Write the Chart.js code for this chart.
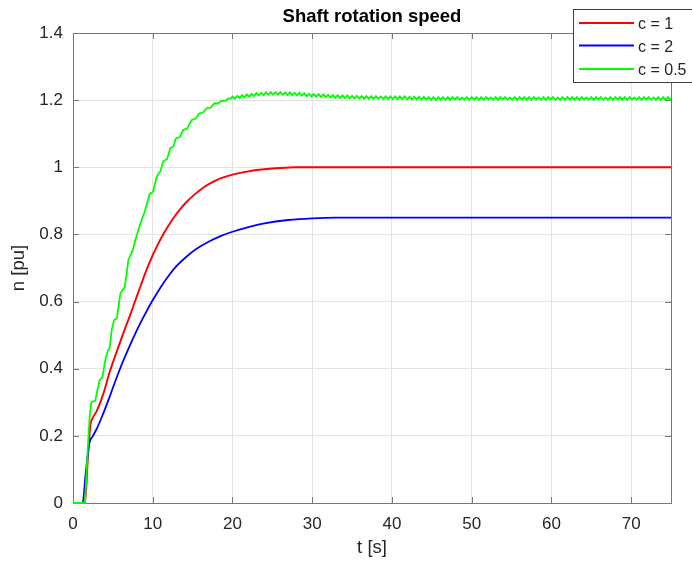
<!DOCTYPE html>
<html>
<head>
<meta charset="utf-8">
<title>Shaft rotation speed</title>
<script src="https://cdn.jsdelivr.net/npm/chart.js@4.4.1/dist/chart.umd.min.js"></script>
<style>
    html, body { margin: 0; padding: 0; background: #ffffff; }
    canvas { display: block; }
</style>
</head>
<body>
<canvas id="speedChart" width="692" height="563"></canvas>
<script>
const seriesLabels = ['c = 1', 'c = 2', 'c = 0.5'];
const seriesColors = ['#ff0000', '#0000ff', '#00ff00'];

const xTicks = [0, 10, 20, 30, 40, 50, 60, 70];
const xTickLabels = ['0', '10', '20', '30', '40', '50', '60', '70'];
const yTicks = [0, 0.2, 0.4, 0.6, 0.8, 1.0, 1.2, 1.4];
const yTickLabels = ['0', '0.2', '0.4', '0.6', '0.8', '1', '1.2', '1.4'];

// c = 1
const redT = [0, 1.5, 1.9, 2.2, 2.4, 3.0, 3.8, 4.6, 5.7, 6.5, 7.2, 7.8, 8.5, 9.2, 10.0, 10.6, 11.3, 12.0, 12.6, 13.4, 14.3, 15.3, 16.2, 17.2, 18.5, 20.0, 22.0, 24.0, 26.0, 28.0, 30.0, 75.0];
const redN = [0, 0, 0.15, 0.235, 0.25, 0.275, 0.325, 0.39, 0.465, 0.518, 0.562, 0.602, 0.648, 0.693, 0.738, 0.768, 0.8, 0.827, 0.849, 0.874, 0.898, 0.92, 0.937, 0.952, 0.967, 0.978, 0.988, 0.994, 0.998, 1.0, 1.0, 1.0];

// c = 2
const blueT = [0, 1.2, 1.6, 2.05, 2.5, 3.0, 3.8, 4.5, 5.06, 5.9, 7.0, 8.0, 9.0, 9.9, 11.0, 12.0, 13.0, 14.3, 15.5, 17.0, 18.5, 20.0, 22.0, 24.0, 27.0, 30.0, 33.0, 75.0];
const blueN = [0, 0, 0.09, 0.178, 0.2, 0.222, 0.267, 0.31, 0.347, 0.4, 0.462, 0.514, 0.561, 0.6, 0.643, 0.677, 0.706, 0.735, 0.757, 0.778, 0.795, 0.808, 0.822, 0.833, 0.843, 0.848, 0.85, 0.85];

// c = 0.5, rising part with its steps
const greenRiseT = [0, 1.5, 1.92, 2.1, 2.3, 2.8, 3.0, 3.35, 3.7, 4.0, 4.4, 4.6, 4.85, 5.15, 5.5, 5.95, 6.5, 6.95, 7.5, 8.0, 8.6, 9.0, 9.6, 10.05, 10.5, 11.0, 11.3, 11.8, 12.2, 12.6, 12.9, 13.4, 13.8, 14.3, 14.9, 15.4, 15.8, 16.3, 16.8, 17.3, 17.7, 18.2, 18.6, 19.1, 19.5, 19.8];
const greenRiseN = [0, 0, 0.19, 0.26, 0.30, 0.305, 0.33, 0.366, 0.375, 0.42, 0.456, 0.46, 0.515, 0.545, 0.55, 0.625, 0.644, 0.724, 0.754, 0.798, 0.843, 0.868, 0.92, 0.927, 0.972, 0.99, 1.017, 1.025, 1.057, 1.062, 1.086, 1.09, 1.111, 1.115, 1.141, 1.145, 1.16, 1.163, 1.176, 1.178, 1.19, 1.19, 1.198, 1.198, 1.205, 1.204];

// c = 0.5, steady part with ripple
const greenSteadyT = [
    20.0, 20.3, 20.6, 20.9, 21.2, 21.5, 21.8, 22.1, 22.4, 22.7,
    23.0, 23.3, 23.6, 23.9, 24.2, 24.5, 24.8, 25.1, 25.4, 25.7,
    26.0, 26.3, 26.6, 26.9, 27.2, 27.5, 27.8, 28.1, 28.4, 28.7,
    29.0, 29.3, 29.6, 29.9, 30.2, 30.5, 30.8, 31.1, 31.4, 31.7,
    32.0, 32.3, 32.6, 32.9, 33.2, 33.5, 33.8, 34.1, 34.4, 34.7,
    35.0, 35.3, 35.6, 35.9, 36.2, 36.5, 36.8, 37.1, 37.4, 37.7,
    38.0, 38.3, 38.6, 38.9, 39.2, 39.5, 39.8, 40.1, 40.4, 40.7,
    41.0, 41.3, 41.6, 41.9, 42.2, 42.5, 42.8, 43.1, 43.4, 43.7,
    44.0, 44.3, 44.6, 44.9, 45.2, 45.5, 45.8, 46.1, 46.4, 46.7,
    47.0, 47.3, 47.6, 47.9, 48.2, 48.5, 48.8, 49.1, 49.4, 49.7,
    50.0, 50.3, 50.6, 50.9, 51.2, 51.5, 51.8, 52.1, 52.4, 52.7,
    53.0, 53.3, 53.6, 53.9, 54.2, 54.5, 54.8, 55.1, 55.4, 55.7,
    56.0, 56.3, 56.6, 56.9, 57.2, 57.5, 57.8, 58.1, 58.4, 58.7,
    59.0, 59.3, 59.6, 59.9, 60.2, 60.5, 60.8, 61.1, 61.4, 61.7,
    62.0, 62.3, 62.6, 62.9, 63.2, 63.5, 63.8, 64.1, 64.4, 64.7,
    65.0, 65.3, 65.6, 65.9, 66.2, 66.5, 66.8, 67.1, 67.4, 67.7,
    68.0, 68.3, 68.6, 68.9, 69.2, 69.5, 69.8, 70.1, 70.4, 70.7,
    71.0, 71.3, 71.6, 71.9, 72.2, 72.5, 72.8, 73.1, 73.4, 73.7,
    74.0, 74.3, 74.6, 74.9, 75.2
];
const greenSteadyN = [
    1.211, 1.204, 1.213, 1.206, 1.215, 1.208, 1.217, 1.210, 1.219, 1.212,
    1.221, 1.214, 1.222, 1.215, 1.223, 1.216, 1.224, 1.216, 1.224, 1.216,
    1.224, 1.216, 1.223, 1.215, 1.223, 1.215, 1.222, 1.214, 1.222, 1.213,
    1.220, 1.212, 1.219, 1.211, 1.218, 1.210, 1.218, 1.209, 1.217, 1.209,
    1.216, 1.208, 1.215, 1.207, 1.215, 1.206, 1.214, 1.206, 1.214, 1.205,
    1.213, 1.205, 1.213, 1.205, 1.212, 1.204, 1.212, 1.204, 1.212, 1.204,
    1.212, 1.204, 1.211, 1.203, 1.211, 1.203, 1.211, 1.203, 1.211, 1.203,
    1.211, 1.203, 1.211, 1.202, 1.210, 1.202, 1.210, 1.202, 1.210, 1.202,
    1.210, 1.202, 1.209, 1.201, 1.209, 1.201, 1.209, 1.201, 1.209, 1.201,
    1.209, 1.201, 1.209, 1.202, 1.209, 1.201, 1.208, 1.201, 1.209, 1.201,
    1.209, 1.202, 1.209, 1.201, 1.209, 1.201, 1.209, 1.202, 1.208, 1.201,
    1.209, 1.201, 1.209, 1.202, 1.209, 1.201, 1.208, 1.201, 1.209, 1.201,
    1.209, 1.202, 1.209, 1.201, 1.209, 1.201, 1.209, 1.202, 1.208, 1.201,
    1.209, 1.201, 1.209, 1.202, 1.209, 1.201, 1.208, 1.201, 1.209, 1.201,
    1.209, 1.202, 1.209, 1.201, 1.209, 1.201, 1.209, 1.202, 1.208, 1.201,
    1.209, 1.201, 1.209, 1.202, 1.209, 1.201, 1.208, 1.201, 1.209, 1.201,
    1.209, 1.202, 1.209, 1.201, 1.209, 1.201, 1.209, 1.202, 1.208, 1.201,
    1.209, 1.201, 1.209, 1.202, 1.209, 1.201, 1.208, 1.201, 1.209, 1.201,
    1.209, 1.201, 1.209, 1.201, 1.209
];

const FONT = '"Liberation Sans", Arial, Helvetica, sans-serif';
const TEXT_COLOR = '#262626';
const AXIS_COLOR = '#777777';

function toPoints(ts, vs) {
    return ts.map((t, i) => ({ x: t, y: vs[i] }));
}

// draws the box, inward ticks, title, axis labels and the legend the way MATLAB does
const matlabFrame = {
    id: 'matlabFrame',
    beforeDatasetsDraw(chart) {
        const ctx = chart.ctx;
        const a = chart.chartArea;
        const xs = chart.scales.x;
        const ys = chart.scales.y;
        ctx.save();
        ctx.strokeStyle = AXIS_COLOR;
        ctx.lineWidth = 1;
        ctx.beginPath();
        xTicks.forEach(v => {
            const px = Math.round(xs.getPixelForValue(v)) + 0.5;
            ctx.moveTo(px, a.bottom);
            ctx.lineTo(px, a.bottom - 6);
            ctx.moveTo(px, a.top);
            ctx.lineTo(px, a.top + 6);
        });
        yTicks.forEach(v => {
            const py = Math.round(ys.getPixelForValue(v)) + 0.5;
            ctx.moveTo(a.left, py);
            ctx.lineTo(a.left + 6, py);
            ctx.moveTo(a.right, py);
            ctx.lineTo(a.right - 6, py);
        });
        ctx.stroke();
        ctx.strokeRect(Math.round(a.left) + 0.5, Math.round(a.top) + 0.5,
            Math.round(a.right - a.left), Math.round(a.bottom - a.top));
        ctx.restore();
    },
    afterDraw(chart) {
        const ctx = chart.ctx;
        const a = chart.chartArea;
        const cx = (a.left + a.right) / 2;
        const cy = (a.top + a.bottom) / 2;
        ctx.save();

        ctx.fillStyle = '#000000';
        ctx.font = 'bold 18.5px ' + FONT;
        ctx.textAlign = 'center';
        ctx.textBaseline = 'middle';
        ctx.fillText('Shaft rotation speed', cx, 17);

        ctx.fillStyle = TEXT_COLOR;
        ctx.font = '18.5px ' + FONT;
        ctx.fillText('t [s]', cx, 548);

        ctx.save();
        ctx.translate(19, cy);
        ctx.rotate(-Math.PI / 2);
        ctx.fillText('n [pu]', 0, 0);
        ctx.restore();

        // legend
        const lx = 573, ly = 9, lw = 130, lh = 73;
        ctx.fillStyle = '#ffffff';
        ctx.fillRect(lx, ly, lw, lh);
        ctx.strokeStyle = '#3c3c3c';
        ctx.lineWidth = 1;
        ctx.strokeRect(lx + 0.5, ly + 0.5, lw, lh);

        const rowLine = [23, 45.5, 69];
        const rowText = [25, 48, 70.5];
        ctx.font = '16px ' + FONT;
        ctx.textAlign = 'left';
        seriesLabels.forEach((label, i) => {
            ctx.strokeStyle = seriesColors[i];
            ctx.lineWidth = 2;
            ctx.beginPath();
            ctx.moveTo(579, rowLine[i]);
            ctx.lineTo(634, rowLine[i]);
            ctx.stroke();
            ctx.fillStyle = TEXT_COLOR;
            ctx.fillText(label, 638, rowText[i]);
        });
        ctx.restore();
    }
};

const ctx = document.getElementById('speedChart').getContext('2d');

new Chart(ctx, {
    type: 'line',
    data: {
        datasets: [
            {
                label: seriesLabels[0],
                data: toPoints(redT, redN),
                borderColor: seriesColors[0],
                borderWidth: 1.9,
                cubicInterpolationMode: 'monotone',
                order: 3
            },
            {
                label: seriesLabels[1],
                data: toPoints(blueT, blueN),
                borderColor: seriesColors[1],
                borderWidth: 1.8,
                cubicInterpolationMode: 'monotone',
                order: 2
            },
            {
                label: seriesLabels[2],
                data: toPoints(greenRiseT.concat(greenSteadyT), greenRiseN.concat(greenSteadyN)),
                borderColor: seriesColors[2],
                borderWidth: 1.8,
                tension: 0,
                order: 1
            }
        ]
    },
    options: {
        responsive: false,
        animation: false,
        events: [],
        parsing: false,
        elements: {
            point: { radius: 0 }
        },
        datasets: {
            line: { clip: { left: 3, top: 3, right: 0, bottom: 3 } }
        },
        layout: {
            padding: { left: 0, right: 21, top: 33, bottom: 0 }
        },
        plugins: {
            legend: { display: false },
            title: { display: false },
            tooltip: { enabled: false }
        },
        scales: {
            x: {
                type: 'linear',
                min: 0,
                max: 75,
                afterBuildTicks: scale => {
                    scale.ticks = xTicks.map(v => ({ value: v }));
                },
                afterFit: scale => {
                    scale.height = 60;
                },
                ticks: {
                    padding: 11,
                    maxRotation: 0,
                    color: TEXT_COLOR,
                    font: { family: FONT, size: 17 },
                    callback: (value) => xTickLabels[xTicks.indexOf(value)]
                },
                grid: {
                    color: '#e3e3e3',
                    lineWidth: 1,
                    drawTicks: false
                },
                border: { display: false }
            },
            y: {
                type: 'linear',
                min: 0,
                max: 1.4,
                afterBuildTicks: scale => {
                    scale.ticks = yTicks.map(v => ({ value: v }));
                },
                afterFit: scale => {
                    scale.width = 73;
                },
                ticks: {
                    padding: 10,
                    color: TEXT_COLOR,
                    font: { family: FONT, size: 17 },
                    callback: (value) => yTickLabels[yTicks.indexOf(value)]
                },
                grid: {
                    color: '#e3e3e3',
                    lineWidth: 1,
                    drawTicks: false
                },
                border: { display: false }
            }
        }
    },
    plugins: [matlabFrame]
});
</script>
</body>
</html>
